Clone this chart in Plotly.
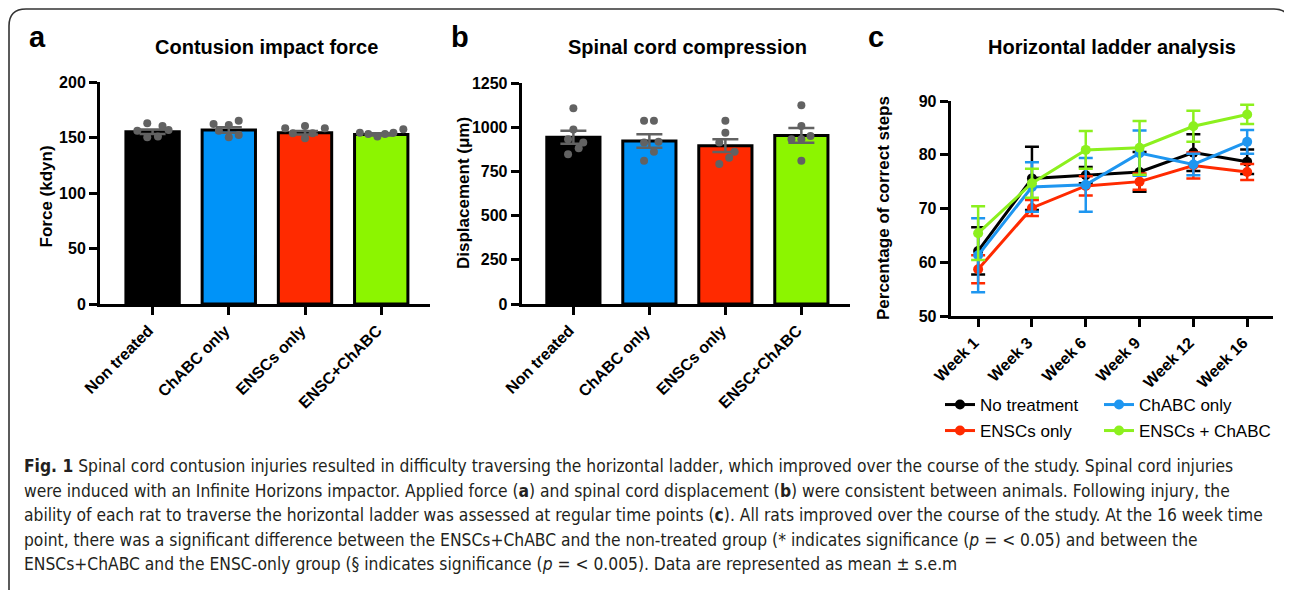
import plotly.graph_objects as go

# page body has an 8px margin: the figure is drawn at (8, 8) in the window
OFF = 8
W, H = 1284, 582

# ---------------- data ----------------
groups = ["Non treated", "ChABC only", "ENSCs only", "ENSC+ChABC"]
bar_colors = ["#000000", "#0093F8", "#FF2A00", "#8CF500"]

force_mean = [155.4, 157.0, 154.5, 153.0]
force_sem = [2.0, 2.4, 1.6, 1.0]
force_points = [
    [163, 160.6, 156.4, 157, 150.4, 151],
    [162.4, 161.5, 165.4, 156.4, 150.4, 152.4],
    [158.5, 160.6, 158.5, 154, 154, 149.5],
    [154.6, 153.4, 151, 153.4, 154.6, 157.6],
]

disp_mean = [944, 923, 897, 955]
disp_sem = [37, 38, 36, 42]
disp_points = [
    [1108, 989, 933, 914, 882, 848],
    [1038, 1038, 914, 919, 863, 812],
    [1038, 970, 914, 863, 829, 793],
    [1125, 1008, 933, 933, 951, 812],
]

weeks = ["Week 1", "Week 3", "Week 6", "Week 9", "Week 12", "Week 16"]
series_names = ["No treatment", "ChABC only", "ENSCs only", "ENSCs + ChABC"]
ladder_mean = {
    "No treatment": [62.1, 75.6, 76.2, 76.8, 80.4, 78.7],
    "ChABC only": [61.3, 74.0, 74.4, 80.3, 78.2, 82.4],
    "ENSCs only": [58.7, 70.1, 74.2, 75.0, 78.0, 76.8],
    "ENSCs + ChABC": [65.4, 74.7, 80.9, 81.3, 85.3, 87.5],
}
ladder_sem = {
    "No treatment": [4.4, 5.9, 1.5, 3.7, 3.4, 2.3],
    "ChABC only": [6.9, 4.6, 5.0, 4.2, 2.0, 2.2],
    "ENSCs only": [2.6, 1.5, 1.8, 1.5, 2.4, 1.5],
    "ENSCs + ChABC": [5.0, 2.7, 3.5, 5.0, 2.9, 1.8],
}
line_colors = {
    "No treatment": "#000000",
    "ChABC only": "#1E96F0",
    "ENSCs only": "#FF2A00",
    "ENSCs + ChABC": "#8CF01E",
}

# horizontal scatter offsets of the individual dots (layout only)
force_jitter = [
    [-0.07, 0.13, -0.2, 0.21, -0.07, 0.07],
    [-0.2, 0.0, 0.13, -0.13, 0.0, 0.13],
    [-0.26, 0.0, 0.26, -0.16, 0.1, 0.0],
    [-0.28, -0.17, -0.05, 0.05, 0.16, 0.29],
]
disp_jitter = [
    [0.0, 0.0, -0.07, 0.13, 0.07, -0.07],
    [-0.07, 0.06, -0.07, 0.12, 0.06, -0.07],
    [0.0, 0.0, -0.08, 0.12, 0.05, -0.08],
    [0.0, 0.0, -0.13, 0.0, 0.12, 0.0],
]

caption_lines = [
    "<b>Fig. 1</b> Spinal cord contusion injuries resulted in difficulty traversing the horizontal ladder, which improved over the course of the study. Spinal cord injuries",
    "were induced with an Infinite Horizons impactor. Applied force (<b>a</b>) and spinal cord displacement (<b>b</b>) were consistent between animals. Following injury, the",
    "ability of each rat to traverse the horizontal ladder was assessed at regular time points (<b>c</b>). All rats improved over the course of the study. At the 16 week time",
    "point, there was a significant difference between the ENSCs+ChABC and the non-treated group (* indicates significance (<i>p</i> = < 0.05) and between the",
    "ENSCs+ChABC and the ENSC-only group (§ indicates significance (<i>p</i> = < 0.005). Data are represented as mean ± s.e.m",
]

# ---------------- helpers (window pixel -> paper fraction) ----------------
def px(x):
    return (x - OFF) / W

def py(y):
    return 1 - (y - OFF) / H

FONT = "Liberation Sans, Arial, Helvetica, sans-serif"
DOT = "#626262"

fig = go.Figure()

# ---------------- panels a & b ----------------
for ax, means, sems, pts, jit in [
    ("", force_mean, force_sem, force_points, force_jitter),
    ("2", disp_mean, disp_sem, disp_points, disp_jitter),
]:
    idx = list(range(len(groups)))
    fig.add_trace(go.Bar(
        x=idx, y=means, xaxis="x" + ax, yaxis="y" + ax,
        marker=dict(color=bar_colors, line=dict(color="#000000", width=3)),
        width=0.7, showlegend=False,
        error_y=dict(type="data", array=sems, visible=True, color=DOT,
                     thickness=2.5, width=13),
    ))
    for i, (vals, js) in enumerate(zip(pts, jit)):
        fig.add_trace(go.Scatter(
            x=[i + j for j in js], y=vals, mode="markers",
            xaxis="x" + ax, yaxis="y" + ax, showlegend=False,
            marker=dict(color=DOT, size=8), cliponaxis=False,
        ))

# ---------------- panel c ----------------
legend_of = {"No treatment": "legend", "ChABC only": "legend2",
             "ENSCs only": "legend3", "ENSCs + ChABC": "legend4"}
for name in ["No treatment", "ENSCs only", "ChABC only", "ENSCs + ChABC"]:
    c = line_colors[name]
    fig.add_trace(go.Scatter(
        x=weeks, y=ladder_mean[name], name=name, mode="lines+markers",
        xaxis="x3", yaxis="y3", legend=legend_of[name],
        line=dict(color=c, width=3), marker=dict(color=c, size=10),
        error_y=dict(type="data", array=ladder_sem[name], visible=True,
                     color=c, thickness=2.5, width=7),
        cliponaxis=False,
    ))

axis_common = dict(showline=True, linewidth=3, linecolor="#000000",
                   ticks="outside", ticklen=8, tickwidth=3, tickcolor="#000000",
                   showgrid=False, zeroline=False, automargin=False,
                   tickfont=dict(family=FONT, size=16, color="#000000", weight="bold"))

def leg(x, y):
    return dict(orientation="h", x=px(x), y=py(y), xanchor="left", yanchor="middle",
                font=dict(family=FONT, size=17), bgcolor="rgba(0,0,0,0)", itemwidth=30)

fig.update_layout(
    width=W, height=H, margin=dict(l=0, r=0, t=0, b=0, autoexpand=False),
    paper_bgcolor="white", plot_bgcolor="white",
    font=dict(family=FONT, color="#000000"),
    xaxis=dict(domain=[px(100), px(430)], range=[-0.69, 3.64],
               tickvals=[0, 1, 2, 3], ticktext=groups, tickangle=-45,
               ticklabelshift=-4, anchor="y", **axis_common),
    yaxis=dict(domain=[py(304), py(82.3)], range=[0, 200],
               tickvals=[0, 50, 100, 150, 200], anchor="x", **axis_common),
    xaxis2=dict(domain=[px(521.7), px(850)], range=[-0.68, 3.64],
                tickvals=[0, 1, 2, 3], ticktext=groups, tickangle=-45,
                ticklabelshift=-4, anchor="y2", **axis_common),
    yaxis2=dict(domain=[py(304), py(83.3)], range=[0, 1250],
                tickvals=[0, 250, 500, 750, 1000, 1250], anchor="x2", **axis_common),
    xaxis3=dict(domain=[px(950.7), px(1273)], range=[-0.51, 5.48],
                type="category", tickangle=-45, ticklabelshift=-4,
                anchor="y3", **axis_common),
    yaxis3=dict(domain=[py(316), py(101)], range=[50, 90],
                tickvals=[50, 60, 70, 80, 90], anchor="x3", **axis_common),
    legend=leg(940, 405),
    legend2=leg(1099, 405),
    legend3=leg(940, 431),
    legend4=leg(1099, 431),
    bargap=0.3,
)

ann = []
# panel letters
for letter, x in [("a", 37), ("b", 460), ("c", 876)]:
    ann.append(dict(text=f"<b>{letter}</b>", x=px(x), y=py(37), xref="paper", yref="paper",
                    showarrow=False, font=dict(family=FONT, size=29), xanchor="center", yanchor="middle"))
# panel titles
for t, x in [("Contusion impact force", 266), ("Spinal cord compression", 687),
             ("Horizontal ladder analysis", 1112)]:
    ann.append(dict(text=f"<b>{t}</b>", x=px(x), y=py(47), xref="paper", yref="paper",
                    showarrow=False, font=dict(family=FONT, size=20), xanchor="center", yanchor="middle"))
# y-axis titles
for t, x, y in [("Force (kdyn)", 46.7, 196.7), ("Displacement (μm)", 463, 193),
                ("Percentage of correct steps", 883, 208)]:
    ann.append(dict(text=f"<b>{t}</b>", x=px(x), y=py(y), xref="paper", yref="paper",
                    showarrow=False, textangle=-90, font=dict(family=FONT, size=17),
                    xanchor="center", yanchor="middle"))
# significance marks
ann.append(dict(text="§", x="Week 16", y=93.6, xref="x3", yref="y3", showarrow=False,
                font=dict(family=FONT, size=14, color="#333333")))
ann.append(dict(text="*", x="Week 16", y=91.4, xref="x3", yref="y3", showarrow=False,
                font=dict(family=FONT, size=16, color="#333333")))
# caption
for i, line in enumerate(caption_lines):
    ann.append(dict(text=line, x=px(22), y=py(466 + i * 24.6), xref="paper", yref="paper",
                    showarrow=False, xanchor="left", yanchor="middle",
                    font=dict(family="Liberation Sans Narrow, DejaVu Sans Condensed, Arial Narrow, sans-serif",
                              size=17.3, color="#231F20")))
fig.update_layout(annotations=ann)

# outer rounded frame
def P(x, y):
    return f"{px(x):.5f} {py(y):.5f}"

frame = (f"M {P(9, 592)} L {P(9, 26)} Q {P(9, 9)} {P(26, 9)} "
         f"L {P(1274, 9)} Q {P(1289, 9)} {P(1291, 24)}")
fig.add_shape(type="path", path=frame, xref="paper", yref="paper",
              line=dict(color="#333333", width=1.6))

fig.write_html("out.html")
